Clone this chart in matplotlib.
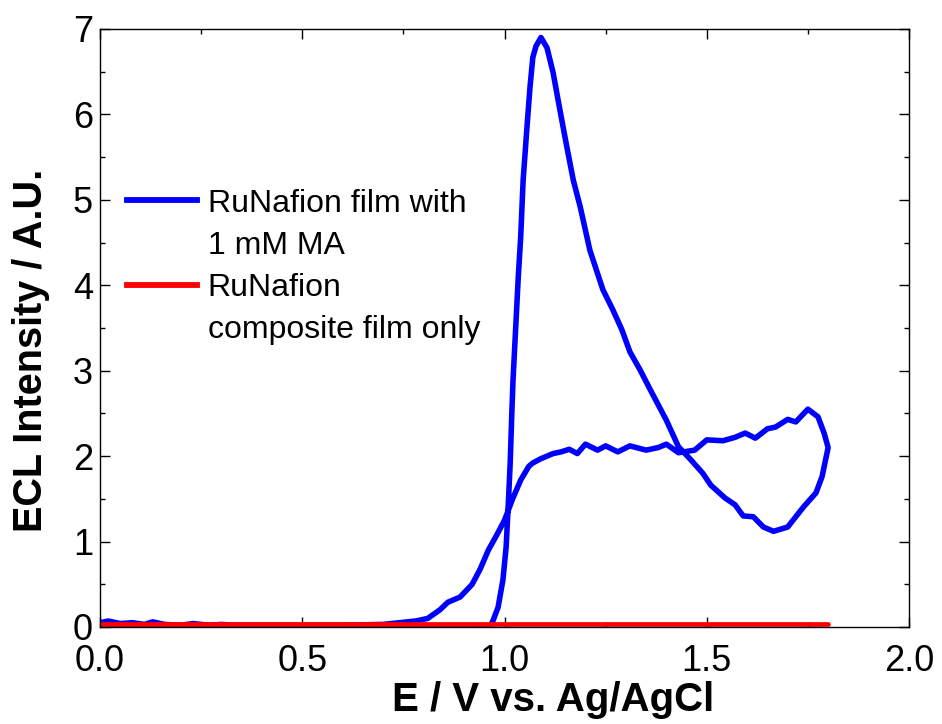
import matplotlib
matplotlib.use("Agg")
import matplotlib.pyplot as plt
from matplotlib.lines import Line2D
from matplotlib.ticker import MultipleLocator

plt.rcParams['font.family'] = ['Liberation Sans', 'DejaVu Sans']

# forward scan, 0 -> 1.8 V
fwd_x = [0.0, 0.02, 0.05, 0.08, 0.11, 0.13, 0.16, 0.20, 0.23, 0.27, 0.30, 0.33,
         0.40, 0.50, 0.60, 0.70, 0.74, 0.78, 0.81, 0.84, 0.86, 0.89, 0.92, 0.94,
         0.96, 0.98, 1.00, 1.02, 1.04, 1.06, 1.07, 1.09, 1.12, 1.14, 1.16, 1.18,
         1.20, 1.23, 1.25, 1.28, 1.31, 1.35, 1.38, 1.40, 1.43, 1.47, 1.50, 1.54,
         1.57, 1.595, 1.62, 1.65, 1.67, 1.70, 1.72, 1.75, 1.775, 1.79, 1.80]
fwd_y = [0.05, 0.07, 0.04, 0.05, 0.03, 0.06, 0.03, 0.02, 0.04, 0.02, 0.03, 0.02,
         0.02, 0.02, 0.02, 0.03, 0.05, 0.07, 0.10, 0.20, 0.29, 0.35, 0.50, 0.68,
         0.90, 1.07, 1.25, 1.50, 1.72, 1.88, 1.92, 1.97, 2.03, 2.05, 2.08, 2.03,
         2.14, 2.07, 2.12, 2.05, 2.12, 2.07, 2.10, 2.14, 2.04, 2.07, 2.19, 2.18,
         2.22, 2.27, 2.21, 2.32, 2.34, 2.43, 2.40, 2.55, 2.46, 2.27, 2.10]

# reverse scan, 1.8 -> 0 V
rev_x = [1.785, 1.77, 1.74, 1.72, 1.70, 1.665, 1.64, 1.615, 1.59, 1.57, 1.545,
         1.51, 1.49, 1.46, 1.43, 1.40, 1.36, 1.335, 1.31, 1.29, 1.268, 1.243,
         1.211, 1.187, 1.17, 1.154, 1.137, 1.12, 1.105, 1.09, 1.078, 1.07, 1.063,
         1.055, 1.046, 1.04, 1.034, 1.021, 1.018, 1.014, 1.009, 1.004, 0.996,
         0.984, 0.972, 0.964, 0.90, 0.50, 0.0]
rev_y = [1.76, 1.57, 1.41, 1.29, 1.17, 1.12, 1.17, 1.29, 1.30, 1.43, 1.51,
         1.66, 1.80, 1.96, 2.11, 2.42, 2.78, 3.01, 3.22, 3.48, 3.71, 3.95,
         4.41, 4.92, 5.23, 5.62, 6.05, 6.49, 6.78, 6.90, 6.80, 6.67, 6.32,
         5.82, 5.23, 4.57, 4.10, 2.89, 2.50, 1.92, 1.41, 0.94, 0.55,
         0.23, 0.08, 0.0, 0.0, 0.0, 0.0]

film_x = [0.0, 1.8]
film_y = [0.03, 0.03]

labels = ["RuNafion film with", "1 mM MA", "RuNafion", "composite film only"]

fig = plt.figure(figsize=(9.42, 7.24), dpi=100)
ax = fig.add_axes([0.1062, 0.134, 0.8588, 0.826])

ax.plot(fwd_x + rev_x, fwd_y + rev_y, color='#0000ff', linewidth=4.0,
        solid_joinstyle='round', solid_capstyle='round')
ax.plot(film_x, film_y, color='#ff0000', linewidth=3.4, solid_capstyle='round')

ax.set_xlim(0, 2.0)
ax.set_ylim(0, 7)
ax.xaxis.set_major_locator(MultipleLocator(0.5))
ax.xaxis.set_minor_locator(MultipleLocator(0.25))
ax.yaxis.set_major_locator(MultipleLocator(1))
ax.yaxis.set_minor_locator(MultipleLocator(0.5))
ax.set_xticklabels([f"{v:.1f}" for v in ax.get_xticks()])
ax.tick_params(which='both', direction='in', top=True, right=True, width=1.0)
ax.tick_params(which='major', length=7, labelsize=26)
ax.tick_params(axis='x', which='major', pad=12)
ax.tick_params(axis='y', which='major', pad=5)
ax.tick_params(which='minor', length=3.6)
for s in ax.spines.values():
    s.set_linewidth(1.0)

ax.set_xlabel("E / V vs. Ag/AgCl", fontsize=29, fontweight='bold')
ax.set_ylabel("ECL Intensity / A.U.", fontsize=28.5, fontweight='bold')
ax.xaxis.set_label_coords(0.56, -0.091)
ax.yaxis.set_label_coords(-0.062, 0.463)

handles = [Line2D([], [], color='#0000ff', linewidth=4.2),
           Line2D([], [], color='none'),
           Line2D([], [], color='#ff0000', linewidth=4.2),
           Line2D([], [], color='none')]
ax.legend(handles, labels, loc='upper left', bbox_to_anchor=(0.033, 0.733),
          frameon=False, fontsize=23, handlelength=2.2, handletextpad=0.33,
          labelspacing=0.38, borderpad=0, borderaxespad=0)

fig.savefig("out.png", dpi=100)
